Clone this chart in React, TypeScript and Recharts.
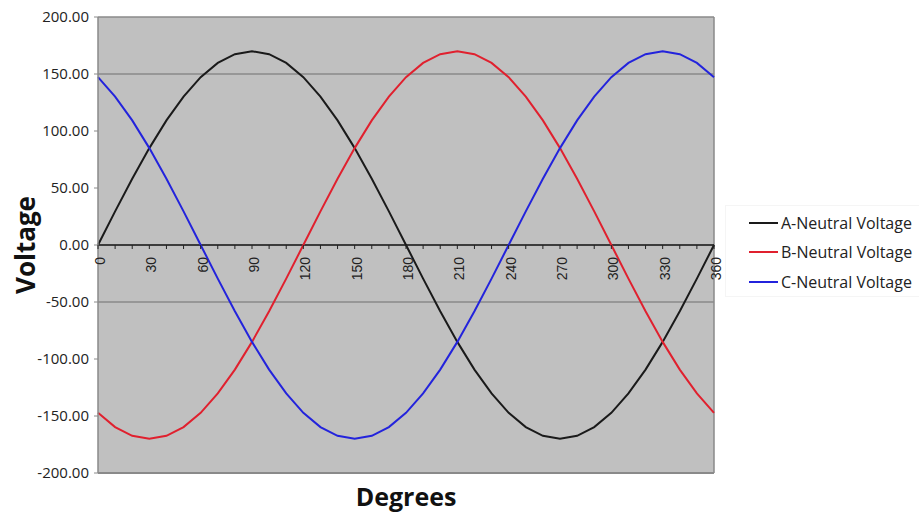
import React from 'react';
import { LineChart, Line, XAxis, YAxis, ReferenceLine, CartesianGrid } from 'recharts';

const degrees = [0, 10, 20, 30, 40, 50, 60, 70, 80, 90, 100, 110, 120, 130, 140, 150, 160, 170, 180, 190, 200, 210, 220, 230, 240, 250, 260, 270, 280, 290, 300, 310, 320, 330, 340, 350, 360];
const phaseA = [0, 29.5, 58.1, 85.0, 109.3, 130.2, 147.2, 159.7, 167.4, 170.0, 167.4, 159.7, 147.2, 130.2, 109.3, 85.0, 58.1, 29.5, 0, -29.5, -58.1, -85.0, -109.3, -130.2, -147.2, -159.7, -167.4, -170.0, -167.4, -159.7, -147.2, -130.2, -109.3, -85.0, -58.1, -29.5, 0];
const phaseB = [-147.2, -159.7, -167.4, -170.0, -167.4, -159.7, -147.2, -130.2, -109.3, -85.0, -58.1, -29.5, 0, 29.5, 58.1, 85.0, 109.3, 130.2, 147.2, 159.7, 167.4, 170.0, 167.4, 159.7, 147.2, 130.2, 109.3, 85.0, 58.1, 29.5, 0, -29.5, -58.1, -85.0, -109.3, -130.2, -147.2];
const phaseC = [147.2, 130.2, 109.3, 85.0, 58.1, 29.5, 0, -29.5, -58.1, -85.0, -109.3, -130.2, -147.2, -159.7, -167.4, -170.0, -167.4, -159.7, -147.2, -130.2, -109.3, -85.0, -58.1, -29.5, 0, 29.5, 58.1, 85.0, 109.3, 130.2, 147.2, 159.7, 167.4, 170.0, 167.4, 159.7, 147.2];
const yTicks = [-200, -150, -100, -50, 0, 50, 100, 150, 200];
const gridValues = [150, -50];
const seriesNames = ['A-Neutral Voltage', 'B-Neutral Voltage', 'C-Neutral Voltage'];
const seriesColors = ['#1a1a1a', '#e0202e', '#2323dc'];

const data = degrees.map((d, i) => ({ deg: d, a: phaseA[i], b: phaseB[i], c: phaseC[i] }));

const W = 919;
const H = 512;
const TOP = 17;
const X_AXIS_H = 39;
const Y_AXIS_W = 98;
const RIGHT = 205;
const PLOT_H = H - TOP - X_AXIS_H;
const ZERO_Y = TOP + PLOT_H / 2;

const XTick = (props: any) => {
  const { x, payload } = props;
  const v = payload.value;
  const ly = ZERO_Y + 12;
  const lx = x + 2;
  return (
    <g>
      <line x1={x} x2={x} y1={ZERO_Y} y2={ZERO_Y + 4} stroke="#222" strokeWidth={1} />
      {v % 30 === 0 && (
        <text
          x={lx}
          y={ly}
          transform={`rotate(-90 ${lx} ${ly})`}
          textAnchor="end"
          dominantBaseline="central"
          fontFamily="Liberation Sans, Arial, sans-serif"
          fontSize={14}
          fill="#222"
        >
          {v}
        </text>
      )}
    </g>
  );
};

export default function App() {
  return (
    <div style={{ position: 'absolute', left: 0, top: 0, width: W, height: H, background: '#fff', fontFamily: 'Open Sans, sans-serif' }}>
      <LineChart width={W} height={H} data={data} margin={{ top: TOP, right: RIGHT, bottom: 0, left: 0 }}>
        <CartesianGrid fill="#c0c0c0" fillOpacity={1} horizontal={false} vertical={false} stroke="none" />
        {gridValues.map((g) => (
          <ReferenceLine key={g} y={g} stroke="#6e6e6e" strokeWidth={1} />
        ))}
        <ReferenceLine y={200} stroke="#8a8a8a" strokeWidth={1.5} />
        <ReferenceLine y={-200} stroke="#8a8a8a" strokeWidth={2} />
        <ReferenceLine x={360} stroke="#8a8a8a" strokeWidth={1.5} />
        <ReferenceLine y={0} stroke="#111" strokeWidth={1.5} />
        <XAxis
          dataKey="deg"
          type="number"
          domain={[0, 360]}
          ticks={degrees}
          interval={0}
          height={X_AXIS_H}
          axisLine={false}
          tickLine={false}
          tick={<XTick />}
        />
        <YAxis
          type="number"
          domain={[-200, 200]}
          ticks={yTicks}
          interval={0}
          width={Y_AXIS_W}
          axisLine={{ stroke: '#8a8a8a', strokeWidth: 1.5 }}
          tickLine={{ stroke: '#8a8a8a' }}
          tickSize={4}
          tickMargin={5}
          tickFormatter={(v: number) => v.toFixed(2)}
          tick={{ fill: '#222', fontSize: 15, fontFamily: 'Open Sans, sans-serif' }}
        />
        <Line type="linear" dataKey="a" stroke={seriesColors[0]} strokeWidth={2} dot={false} isAnimationActive={false} />
        <Line type="linear" dataKey="b" stroke={seriesColors[1]} strokeWidth={2} dot={false} isAnimationActive={false} />
        <Line type="linear" dataKey="c" stroke={seriesColors[2]} strokeWidth={2} dot={false} isAnimationActive={false} />
      </LineChart>
      <div
        style={{
          position: 'absolute',
          left: 0,
          top: ZERO_Y,
          width: 0,
          height: 0,
        }}
      >
        <div
          style={{
            position: 'absolute',
            left: 25,
            top: 0,
            transform: 'translate(-50%, -50%) rotate(-90deg)',
            fontSize: 26,
            fontWeight: 700,
            color: '#111',
            whiteSpace: 'nowrap',
            lineHeight: '30px',
          }}
        >
          Voltage
        </div>
      </div>
      <div
        style={{
          position: 'absolute',
          left: Y_AXIS_W,
          width: W - Y_AXIS_W - RIGHT,
          top: 480,
          textAlign: 'center',
          fontSize: 25,
          fontWeight: 700,
          color: '#111',
          lineHeight: '32px',
        }}
      >
        Degrees
      </div>
      <div
        style={{
          position: 'absolute',
          left: 725,
          top: 205,
          width: 194,
          height: 92,
          border: '1px solid #f5f5f5',
          borderRight: 'none',
          boxSizing: 'border-box',
          paddingTop: 2,
        }}
      >
        {seriesNames.map((n, i) => (
          <div key={n} style={{ display: 'flex', alignItems: 'center', height: 29.5, paddingLeft: 23 }}>
            <div style={{ width: 29, height: 2, background: seriesColors[i], marginRight: 3 }} />
            <span style={{ fontSize: 16, color: '#222', whiteSpace: 'nowrap' }}>{n}</span>
          </div>
        ))}
      </div>
    </div>
  );
}
